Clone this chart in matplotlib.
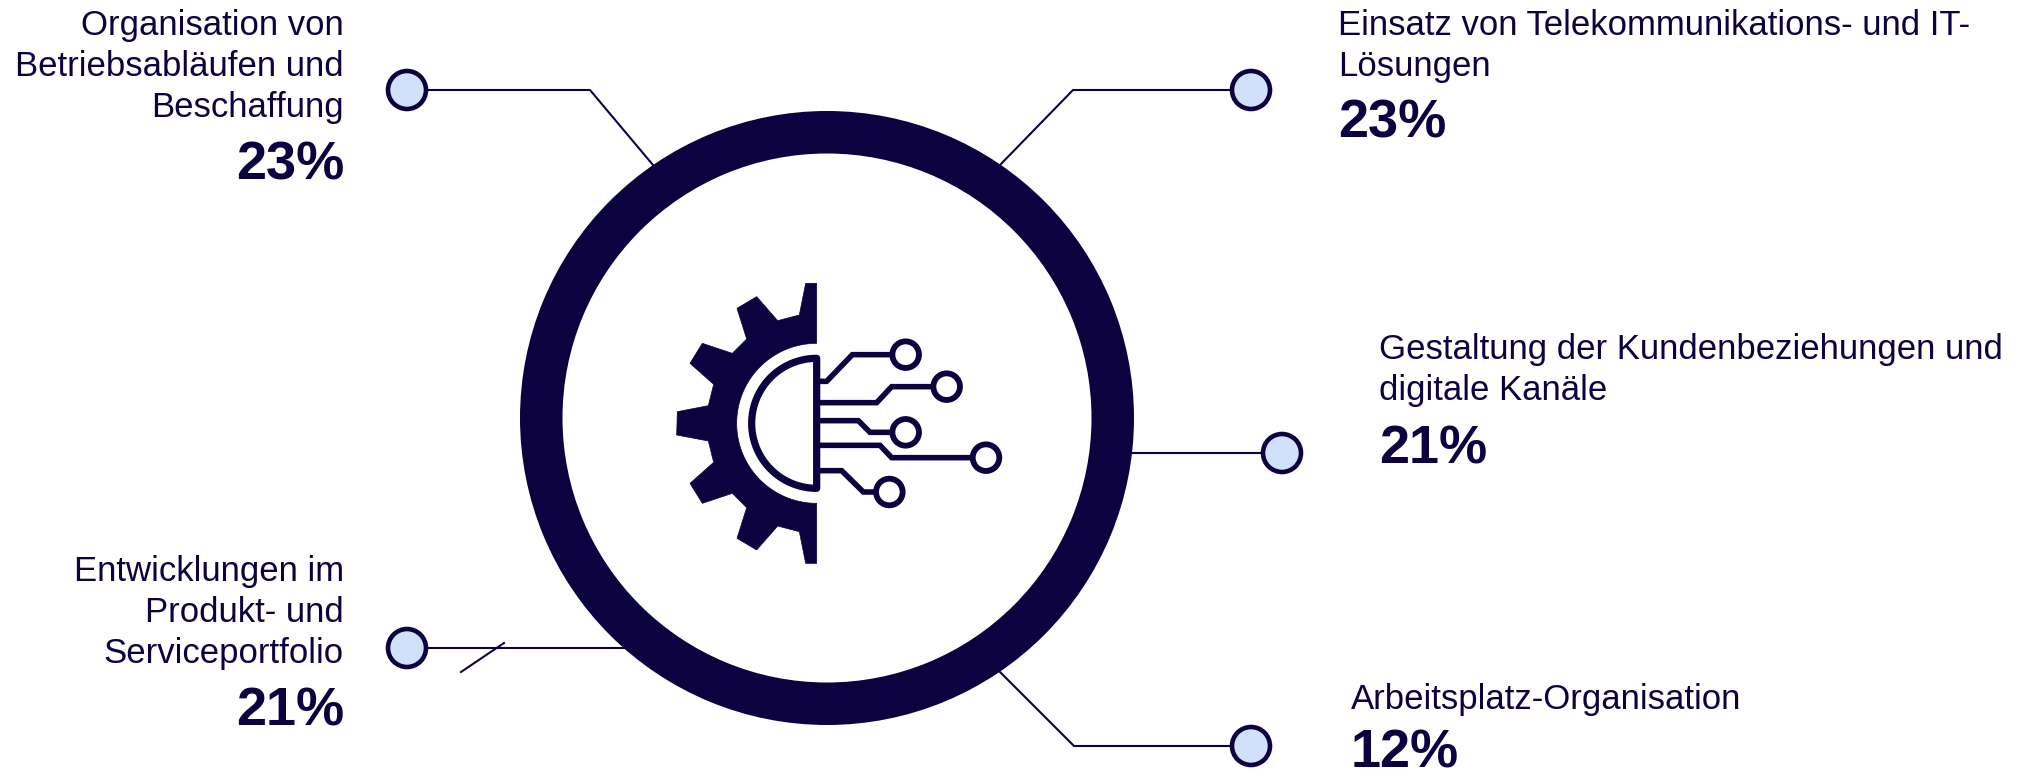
import numpy as np
import matplotlib
matplotlib.use('Agg')
import matplotlib.pyplot as plt
from matplotlib.patches import Circle, Wedge, Polygon

plt.rcParams['font.family'] = ['Liberation Sans', 'DejaVu Sans']

##################### CONTENT ########################
labels = [
    'Organisation von\nBetriebsabläufen und\nBeschaffung',
    'Einsatz von Telekommunikations- und IT-\nLösungen',
    'Gestaltung der Kundenbeziehungen und\ndigitale Kanäle',
    'Entwicklungen im\nProdukt- und\nServiceportfolio',
    'Arbeitsplatz-Organisation',
]
shares = [23, 23, 21, 21, 12]

##################### LAYOUT (pixels) ########################
W, H = 2023, 770
NAVY = '#0d0240'
DOT = '#d2e1fa'
CENTER = (827, 418)
LABEL_FS = 25
SHARE_FS = 39
PITCH = 41

text_x = [344, 1338, 1379, 344, 1351]
text_align = ['right', 'left', 'left', 'right', 'left']
first_baseline = [35, 35, 359, 581, 709]
share_gap = [62, 62, 63, 63, 59]

leaders = [
    [(407, 90), (590, 90), (653, 165)],
    [(1251, 90), (1073, 90), (1000, 165)],
    [(1282, 453), (1131, 453)],
    [(407, 648), (627, 648)],
    [(1251, 746), (1074, 746), (1000, 672)],
]

# gear outline in icon coordinates, spine at x=530, hub centre at y=490
gear_teeth = [
    (530, 70), (497, 70), (478, 165), (413, 182), (350, 110), (291, 145),
    (320, 237), (277, 280), (187, 250), (150, 310), (221, 373), (205, 437),
    (112, 455), (110, 525), (205, 543), (221, 607), (150, 670), (187, 730),
    (277, 700), (320, 743), (291, 835), (350, 870), (413, 798), (478, 815),
    (497, 910), (530, 910), (530, 730),
]
traces = [
    [(541, 364), (560, 364), (637, 284), (760, 284)],
    [(541, 428), (710, 428), (755, 380), (880, 380)],
    [(541, 482), (655, 482), (690, 517), (760, 517)],
    [(541, 556), (720, 556), (755, 593), (1000, 593)],
    [(541, 632), (605, 632), (670, 696), (710, 696)],
]
pads = [(797, 284), (920, 380), (797, 517), (1038, 593), (748, 696)]


def icon_xy(pts):
    # icon coordinates were laid out at 3x, origin at (640, 260)
    pts = np.asarray(pts, dtype=float)
    return np.column_stack([640 + pts[:, 0] / 3, 260 + pts[:, 1] / 3])


fig = plt.figure(figsize=(W / 100, H / 100), dpi=100)
ax = fig.add_axes([0, 0, 1, 1])
ax.set_xlim(0, W)
ax.set_ylim(H, 0)
ax.axis('off')

# leader lines with their dots
for pts in leaders:
    xs, ys = zip(*pts)
    ax.plot(xs, ys, color=NAVY, lw=1.5, zorder=1, solid_joinstyle='miter')
    ax.add_patch(Circle(pts[0], 19, facecolor=DOT, edgecolor=NAVY, lw=3.3, zorder=3))

# stray tick on the lower left leader
ax.plot([461, 504], [672, 643], color=NAVY, lw=1.5, zorder=1)

# main ring
ax.add_patch(Wedge(CENTER, 307, 0, 360, width=42.5, facecolor=NAVY, edgecolor='none', zorder=2))

# half gear
theta = np.linspace(np.pi / 2, 3 * np.pi / 2, 80)
hub = np.column_stack([530 + 240 * np.cos(theta), 490 + 240 * np.sin(theta)])
gear = np.vstack([gear_teeth, hub])
ax.add_patch(Polygon(icon_xy(gear), closed=True, facecolor=NAVY, edgecolor=NAVY,
                     lw=0.5, joinstyle='round', zorder=4))

# half disc inside the gear
arc = np.column_stack([530 + 195 * np.cos(theta), 490 + 195 * np.sin(theta)])
ax.add_patch(Polygon(icon_xy(arc), closed=True, facecolor='white', edgecolor=NAVY,
                     lw=5.2, joinstyle='round', zorder=4))

# circuit traces ending in open pads
for pts, pad in zip(traces, pads):
    xy = icon_xy(pts)
    ax.plot(xy[:, 0], xy[:, 1], color=NAVY, lw=4, zorder=4, solid_joinstyle='miter')
    ax.add_patch(Circle(icon_xy([pad])[0], 13.3, facecolor='white', edgecolor=NAVY, lw=4.2, zorder=5))

# captions
for label, share, x, ha, y0, gap in zip(labels, shares, text_x, text_align, first_baseline, share_gap):
    lines = label.split('\n')
    for i, line in enumerate(lines):
        ax.text(x, y0 + i * PITCH, line, color=NAVY, fontsize=LABEL_FS, ha=ha, va='baseline')
    ax.text(x, y0 + (len(lines) - 1) * PITCH + gap, f'{share}%', color=NAVY,
            fontsize=SHARE_FS, fontweight='bold', ha=ha, va='baseline')

fig.savefig('out.png', dpi=100)
